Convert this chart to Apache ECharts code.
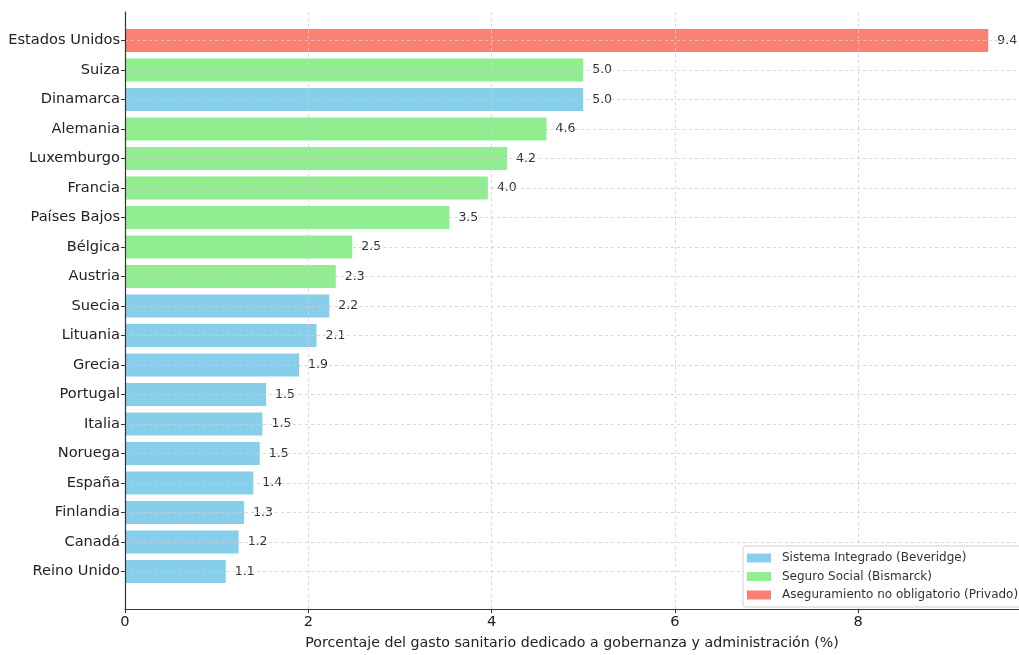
<!DOCTYPE html>
<html>
<head>
<meta charset="utf-8">
<script src="https://cdn.jsdelivr.net/npm/echarts@6/dist/echarts.min.js"></script>
<style>
html,body{margin:0;padding:0;background:#fff;}
#chart{width:1019px;height:655px;}
</style>
</head>
<body>
<div id="chart"></div>
<script>
const categories = ["Estados Unidos","Suiza","Dinamarca","Alemania","Luxemburgo","Francia","Países Bajos","Bélgica","Austria","Suecia","Lituania","Grecia","Portugal","Italia","Noruega","España","Finlandia","Canadá","Reino Unido"];
const values = [9.42,5.0,5.0,4.6,4.17,3.96,3.54,2.48,2.3,2.23,2.09,1.9,1.54,1.5,1.47,1.4,1.3,1.24,1.1];
const systems = ["P","S","B","S","S","S","S","S","S","B","B","B","B","B","B","B","B","B","B"];
const seriesNames = ["Sistema Integrado (Beveridge)","Seguro Social (Bismarck)","Aseguramiento no obligatorio (Privado)"];
const seriesKeys = ["B","S","P"];
const seriesColors = ["#87CEEB","#90EE90","#FA8072"];
const xTicks = [0,2,4,6,8];

const XMAX = 9.756;
const font = "DejaVu Sans";
const gridLine = {show:true, lineStyle:{color:"#cfcfcf", type:[3,3], width:0.8}};

const series = seriesKeys.map((k,i)=>({
  name: seriesNames[i],
  type: "bar",
  xAxisIndex: 1,
  yAxisIndex: 1,
  stack: "all",
  barWidth: 23,
  clip: false,
  z: 2,
  itemStyle: {color: seriesColors[i]},
  label: {show:true, position:"right", distance:9, color:"#333", fontFamily:font, fontSize:12.5,
          formatter: p => Number(p.value).toFixed(1)},
  data: values.map((v,j)=> systems[j]===k ? v : "-")
}));

const chart = echarts.init(document.getElementById("chart"), null, {renderer:"canvas"});
chart.setOption({
  animation:false,
  textStyle:{fontFamily:font},
  grid:[
    {left:125, right:0, top:12, bottom:43},
    {left:125, right:0, top:40.5, bottom:83.5}
  ],
  xAxis:[
    {type:"value", gridIndex:0, min:0, max:XMAX, interval:2, z:3,
     axisLine:{show:true, lineStyle:{color:"#333", width:1.2}},
     axisTick:{show:true, length:4, lineStyle:{color:"#333"}},
     axisLabel:{color:"#222", fontSize:14.6, fontFamily:font, margin:6, showMaxLabel:false,
                formatter: v => xTicks.indexOf(v) >= 0 ? String(v) : ""},
     splitLine:gridLine,
     name:"Porcentaje del gasto sanitario dedicado a gobernanza y administración (%)",
     nameLocation:"middle", nameGap:27,
     nameTextStyle:{color:"#222", fontSize:14.2, fontFamily:font}},
    {type:"value", gridIndex:1, min:0, max:XMAX, show:false}
  ],
  yAxis:[
    {type:"value", gridIndex:0, min:0, max:1, z:3,
     axisLine:{show:true, lineStyle:{color:"#333", width:1.2}},
     axisTick:{show:false}, axisLabel:{show:false}, splitLine:{show:false}},
    {type:"category", gridIndex:1, inverse:true, boundaryGap:false, data:categories, z:3,
     axisLine:{show:false},
     axisTick:{show:true, length:4, lineStyle:{color:"#333"}},
     axisLabel:{color:"#222", fontSize:14.6, fontFamily:font, margin:5},
     splitLine:gridLine}
  ],
  legend:{
    data: seriesNames,
    orient:"vertical",
    left:743, top:546,
    icon:"rect",
    itemWidth:24, itemHeight:9, itemGap:4.5,
    padding:[5,6,5,4],
    backgroundColor:"#fff",
    borderColor:"#d0d0d0", borderWidth:1, borderRadius:3,
    textStyle:{color:"#333", fontSize:12, fontFamily:font, lineHeight:14, padding:[0,0,0,6]},
    itemStyle:{borderWidth:0},
    z:10
  },
  series: series
});
</script>
</body>
</html>
